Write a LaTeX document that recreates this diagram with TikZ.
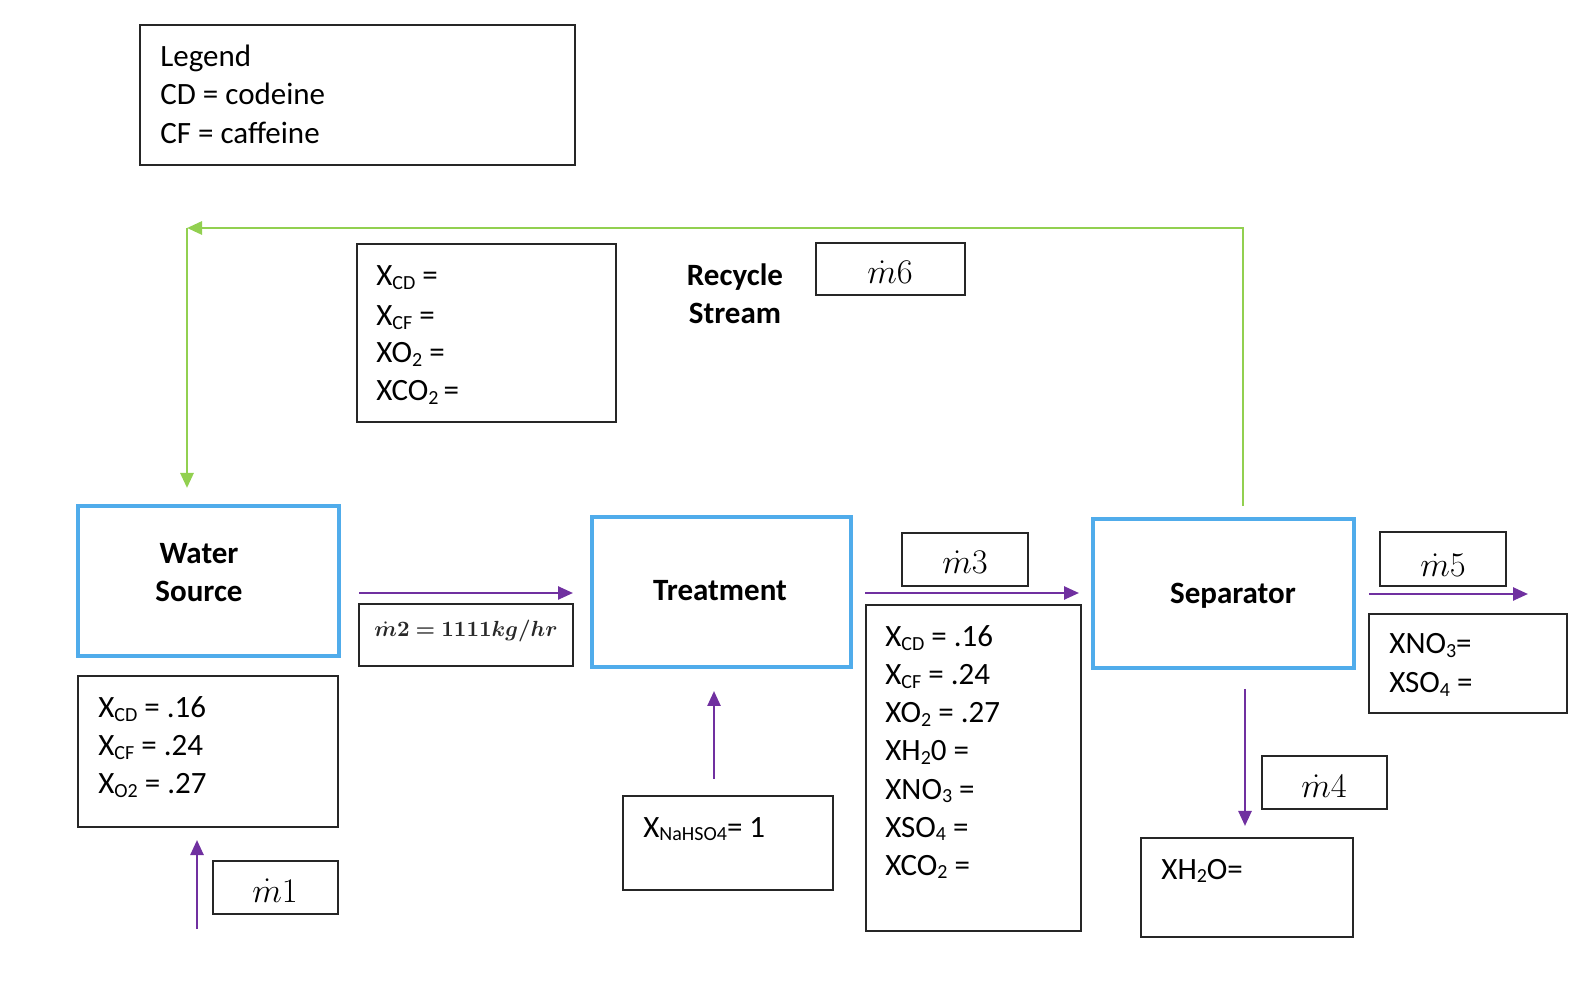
\documentclass[tikz,border=0pt]{standalone}
\usepackage{fontspec}
\setmainfont{Carlito}
\usepackage{bm}
\usetikzlibrary{arrows.meta,fit}
\definecolor{procblue}{RGB}{80,172,235}
\definecolor{recgreen}{RGB}{146,208,80}
\definecolor{flowpurple}{RGB}{112,48,160}
\definecolor{mtwocol}{RGB}{40,40,40}
\newcommand\fs{\fontsize{15.5}{19}\selectfont}
\newcommand\sbs[1]{\raisebox{-0.1em}{\fontsize{10}{10}\selectfont #1}}
\newcommand\mdot[1]{\fontsize{16.5}{20}\selectfont$\dot{m}#1$}
\newcommand\mtwolabel{\fontsize{10.5}{12}\selectfont\color{mtwocol}$\bm{\dot{m}2=1111kg/hr}$}
\begin{document}
\begin{tikzpicture}[x=0.5pt,y=-0.5pt,
 thinbox/.style={draw=black!85, line width=0.65pt, inner sep=0pt},
 procbox/.style={draw=procblue, line width=2.2pt, inner sep=0pt},
 txt/.style={anchor=base west, inner sep=0pt, font=\fs},
 lbl/.style={anchor=base, inner sep=0pt, font=\fs\bfseries},
 mlbl/.style={anchor=base, inner sep=0pt},
 flow/.style={draw=flowpurple, line width=1.25pt, -{Triangle[length=7.5pt,width=6.5pt]}},
 recyc/.style={draw=recgreen, line width=1.4pt},
 recarrow/.style={recyc, -{Triangle[length=7.5pt,width=6.5pt]}}]
\useasboundingbox (0,0) rectangle (1586,988);

% process boxes
\node[procbox, fit={(78,506) (339,656)}] (water) {};
\node[procbox, fit={(592,517) (851,667)}] (treat) {};
\node[procbox, fit={(1093,519) (1354,668)}] (sep) {};
\node[lbl] (waterl1) at (199,564) {Water};
\node[lbl] (waterl2) at (199,602) {Source};
\node[lbl] (treatl) at (720,601) {Treatment};
\node[lbl] (sepl) at (1233,604) {Separator};
\node[lbl] (rec1) at (735,286) {Recycle};
\node[lbl] (rec2) at (735,324) {Stream};

% thin boxes
\node[thinbox, fit={(140,25) (575,165)}] (legend) {};
\node[thinbox, fit={(357,244) (616,422)}] (topcomp) {};
\node[thinbox, fit={(816,243) (965,295)}] (m6box) {};
\node[thinbox, fit={(78,676) (338,827)}] (wcomp) {};
\node[thinbox, fit={(213,861) (338,914)}] (m1box) {};
\node[thinbox, fit={(359,604) (573,666)}] (m2box) {};
\node[thinbox, fit={(623,796) (833,890)}] (nabox) {};
\node[thinbox, fit={(902,533) (1028,586)}] (m3box) {};
\node[thinbox, fit={(866,605) (1081,931)}] (bigbox) {};
\node[thinbox, fit={(1380,532) (1506,586)}] (m5box) {};
\node[thinbox, fit={(1369,614) (1567,713)}] (rbox) {};
\node[thinbox, fit={(1262,756) (1387,809)}] (m4box) {};
\node[thinbox, fit={(1141,838) (1353,937)}] (h2obox) {};

% legend
\node[txt] (lg1) at (160,67) {Legend};
\node[txt] (lg2) at (160,105) {CD = codeine};
\node[txt] (lg3) at (160,144) {CF = caffeine};

% top composition
\node[txt] (tc1) at (376,286) {X\sbs{CD} =};
\node[txt] (tc2) at (376,326) {X\sbs{CF} =};
\node[txt] (tc3) at (376,363) {XO\sbs{2} =};
\node[txt] (tc4) at (376,401) {XCO\sbs{2}\,=};

% water source composition
\node[txt] (wc1) at (98,718) {X\sbs{CD} = .16};
\node[txt] (wc2) at (98,756) {X\sbs{CF} = .24};
\node[txt] (wc3) at (98,794) {X\sbs{O2} = .27};

% NaHSO4
\node[txt] (na1) at (643,837) {X\sbs{NaHSO4}= 1};

% big composition box
\node[txt] (bc1) at (885,647) {X\sbs{CD} = .16};
\node[txt] (bc2) at (885,685) {X\sbs{CF} = .24};
\node[txt] (bc3) at (885,723) {XO\sbs{2} = .27};
\node[txt] (bc4) at (885,761) {XH\sbs{2}0 =};
\node[txt] (bc5) at (885,799) {XNO\sbs{3} =};
\node[txt] (bc6) at (885,837) {XSO\sbs{4} =};
\node[txt] (bc7) at (885,875) {XCO\sbs{2} =};

% right box
\node[txt] (rb1) at (1389,654) {XNO\sbs{3}=};
\node[txt] (rb2) at (1389,693) {XSO\sbs{4} =};

% H2O box
\node[txt] (hb1) at (1161,879) {XH\sbs{2}O=};

% mass flow labels
\node[mlbl] (m1) at (275,902) {\mdot{1}};
\node[mlbl] (m3) at (965,574) {\mdot{3}};
\node[mlbl] (m4) at (1324,798) {\mdot{4}};
\node[mlbl] (m5) at (1443,577) {\mdot{5}};
\node[mlbl] (m6) at (890,284) {\mdot{6}};
\node[mlbl] (mtwo) at (466,637) {\mtwolabel};

% flow arrows
\coordinate (a1s) at (197,929); \coordinate (a1e) at (197,840);
\coordinate (a2s) at (359,593); \coordinate (a2e) at (573,593);
\coordinate (a3s) at (714,779); \coordinate (a3e) at (714,691);
\coordinate (a4s) at (865,593); \coordinate (a4e) at (1079,593);
\coordinate (a5s) at (1369,594); \coordinate (a5e) at (1528,594);
\coordinate (a6s) at (1245,689); \coordinate (a6e) at (1245,826);
\draw[flow] (a1s) -- (a1e);
\draw[flow] (a2s) -- (a2e);
\draw[flow] (a3s) -- (a3e);
\draw[flow] (a4s) -- (a4e);
\draw[flow] (a5s) -- (a5e);
\draw[flow] (a6s) -- (a6e);

% recycle
\coordinate (g0) at (1243,506);
\coordinate (gc) at (1243,228);
\coordinate (gl) at (187,228);
\coordinate (gd) at (187,488);
\draw[recarrow] (g0) -- (gc) -- (gl);
\draw[recarrow] (gl) -- (gd);
\end{tikzpicture}
\end{document}
